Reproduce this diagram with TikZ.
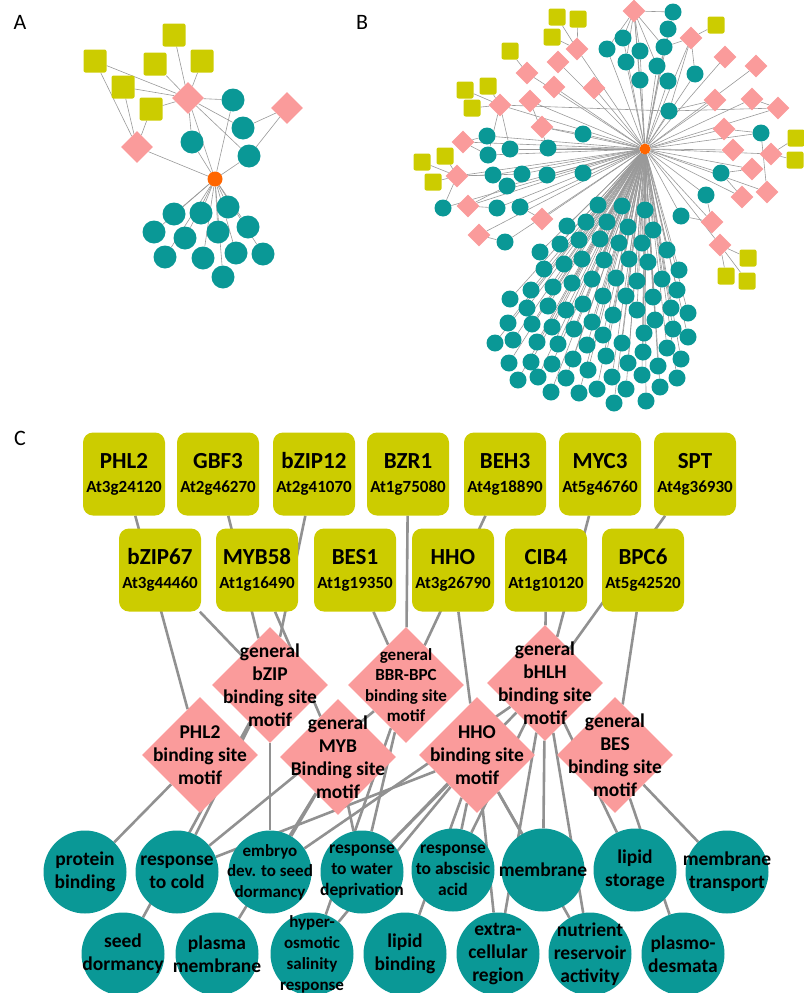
\documentclass[tikz,border=0pt]{standalone}
\usepackage{fontspec}
\setmainfont{Carlito}
\usetikzlibrary{shapes.geometric,backgrounds}

\definecolor{tfyellow}{RGB}{204,204,0}
\definecolor{motifpink}{RGB}{250,155,155}
\definecolor{termteal}{RGB}{10,152,150}
\definecolor{huborange}{RGB}{255,102,0}
\definecolor{linkgray}{RGB}{145,145,145}

\begin{document}
\begin{tikzpicture}[x=1pt, y=-1pt,
		panel/.style={font=\fontsize{22}{26}\selectfont, inner sep=0pt},
		hubnode/.style={circle, fill=huborange, inner sep=0pt},
		smallsq/.style={rectangle, rounded corners=2pt, fill=tfyellow, inner sep=0pt},
		smalldia/.style={diamond, fill=motifpink, inner sep=0pt},
		smallcirc/.style={circle, fill=termteal, inner sep=0pt},
		thinlink/.style={draw=gray!80, line width=0.6pt},
		tf/.style={rectangle, rounded corners=10pt, fill=tfyellow, minimum width=82pt, minimum height=83pt, inner sep=0pt, align=center, font=\bfseries\fontsize{23}{26}\selectfont},
		motif/.style={diamond, fill=motifpink, minimum width=116pt, minimum height=116pt, inner sep=0pt},
		term/.style={circle, fill=termteal, minimum size=83pt, inner sep=0pt},
		termtext/.style={align=center, inner sep=0pt, font=\bfseries\fontsize{19.5}{23}\selectfont},
		smalltext/.style={align=center, inner sep=0pt, font=\bfseries\fontsize{17.5}{21}\selectfont},
		link/.style={draw=linkgray, line width=2.6pt}]
	\useasboundingbox (0,0) rectangle (803,993);
	% panel letters
	\node [panel] (labA) at (20,22) {A};
	\node [panel] (labB) at (362,22) {B};
	\node [panel] (labC) at (20,438) {C};

	% ---------------- A: small network ----------------
	\node [hubnode, minimum size=15pt] (ahub) at (215,179) {};
	\foreach \x/\y [count=\i] in {174/35, 95/61, 155/64, 202/61, 123/87, 151/109}
		\node [smallsq, minimum size=23pt] (as\i) at (\x,\y) {};
	\foreach \x/\y [count=\i] in {188/98, 287/108, 137/147}
		\node [smalldia, minimum size=32pt] (ad\i) at (\x,\y) {};
	\foreach \x/\y [count=\i] in {233/100, 243/128, 192/142, 249/156}
		\node [smallcirc, minimum size=23pt] (ac\i) at (\x,\y) {};
	\foreach \x/\y [count=\i] in {174/214, 201/213, 228/207, 154/232, 185/238, 218/232, 248/227, 165/257, 203/258, 236/253, 263/254, 223/277}
		\node [smallcirc, minimum size=23pt] (al\i) at (\x,\y) {};
	\begin{pgfonlayer}{background}
		\foreach \i in {1,...,6} \draw [thinlink] (as\i) -- (ad1);
		\foreach \i in {2,5,6} \draw [thinlink] (as\i) -- (ad3);
		\foreach \j in {ac1,ac2,ac3,ac4,ahub} \draw [thinlink] (ad1) -- (\j);
		\foreach \j in {ac2,ac4} \draw [thinlink] (ad2) -- (\j);
		\foreach \j in {ad3,ac1,ac3,ac4} \draw [thinlink] (ahub) -- (\j);
		\foreach \i in {1,...,12} \draw [thinlink] (ahub) -- (al\i);
	\end{pgfonlayer}

	% ---------------- B: full network ----------------
	\node [hubnode, minimum size=11pt] (bhub) at (645,149) {};
	% binding site motifs
	\foreach \x/\y [count=\i] in {634/11, 691/38, 577/49, 558/62, 527/73, 725/57, 756/66, 554/87, 594/88, 500/105,
			530/101, 715/100, 752/99, 778/108, 542/127, 724/129, 463/142, 733/150, 771/154, 457/176,
			752/169, 468/206, 742/197, 767/192, 542/219, 712/222, 479/235, 720/245}
		\node [smalldia, minimum size=23pt] (bd\i) at (\x,\y) {};
	% transcription factors
	\foreach \x/\y [count=\i] in {557/17, 578/19, 552/37, 510/51, 716/25, 465/90, 488/86, 472/108,
			445/156, 422/162, 433/182, 796/138, 795/160, 748/258, 726/276, 747/281}
		\node [smallsq, minimum size=17pt] (bs\i) at (\x,\y) {};
	% GO terms around the hub
	\foreach \x/\y [count=\i] in {673/12, 668/29, 623/38, 607/49, 640/51, 664/47, 626/62, 657/66, 640/80, 668/81,
			695/74, 669/111, 583/134, 487/136, 510/149, 548/148, 488/155, 761/133, 493/175, 522/174,
			547/175, 583/173, 507/186, 721/173, 443/208, 497/208, 520/207, 706/195, 681/216, 505/242}
		\node [smallcirc, minimum size=17pt] (bu\i) at (\x,\y) {};
	% GO terms of the lower fan
	\foreach \x/\y [count=\i] in {598/205, 622/206, 645/210, 567/226, 586/222, 607/222, 628/227, 653/230,
			540/252, 560/244, 579/240, 600/239, 619/243, 642/243, 667/250, 544/269, 564/264, 582/259,
			604/260, 629/259, 648/262, 679/270, 531/290, 553/287, 572/283, 592/279, 616/278, 637/281,
			662/279, 677/290, 510/299, 527/308, 548/306, 566/310, 583/304, 603/296, 626/296, 653/297,
			671/308, 688/313, 508/323, 532/324, 552/327, 574/329, 592/322, 613/315, 637/310, 655/320,
			673/329, 688/337, 495/343, 513/340, 537/342, 558/344, 587/345, 603/335, 622/343, 644/333,
			667/348, 509/363, 531/362, 552/364, 573/359, 588/370, 606/356, 628/363, 643/352, 658/366,
			681/359, 518/380, 538/377, 566/378, 612/377, 642/375, 677/378, 551/392, 579/393, 597/389,
			626/389, 660/387, 614/403, 646/401}
		\node [smallcirc, minimum size=17pt] (bl\i) at (\x,\y) {};
	\begin{pgfonlayer}{background}
		\foreach \i in {1,...,28} \draw [thinlink] (bhub) -- (bd\i);
		\foreach \i in {1,...,30} \draw [thinlink] (bhub) -- (bu\i);
		\foreach \i in {1,...,82} \draw [thinlink] (bhub) -- (bl\i);
		\foreach \a/\b in {bs1/bd3, bs2/bd3, bs3/bd3, bs4/bd5, bs5/bd2, bs6/bd10, bs7/bd10, bs8/bd10,
				bs9/bd20, bs10/bd20, bs11/bd20, bs12/bd19, bs13/bd19, bs14/bd28, bs15/bd28, bs16/bd28,
				bd1/bu1, bd1/bu3, bd1/bu4, bd1/bu5, bd1/bu6, bd1/bu7, bd1/bu8, bd1/bu9, bd2/bu11, bd2/bu12,
				bd2/bu6, bd17/bu14, bd17/bu17, bd20/bu19, bd20/bu25, bd20/bu20, bd22/bu26, bd22/bu23,
				bd27/bu30, bd25/bu27, bd16/bu18, bd23/bu24, bd26/bu28, bd26/bu29, bd10/bu15, bd10/bu17,
				bd11/bu16, bd15/bu13, bd12/bu12, bd21/bu24, bd24/bu18, bd10/bu12, bd14/bu12, bd13/bd14}
			\draw [thinlink] (\a) -- (\b);
	\end{pgfonlayer}

	% ---------------- C: annotated network ----------------
	% transcription factors, upper row
	\node [tf] (phl2) at (124,474) {PHL2\\[-2pt]{\fontsize{17}{20}\selectfont At3g24120}};
	\node [tf] (gbf3) at (218,474) {GBF3\\[-2pt]{\fontsize{17}{20}\selectfont At2g46270}};
	\node [tf] (bzip12) at (314,474) {bZIP12\\[-2pt]{\fontsize{17}{20}\selectfont At2g41070}};
	\node [tf] (bzr1) at (408,474) {BZR1\\[-2pt]{\fontsize{17}{20}\selectfont At1g75080}};
	\node [tf] (beh3) at (505,474) {BEH3\\[-2pt]{\fontsize{17}{20}\selectfont At4g18890}};
	\node [tf] (myc3) at (600,474) {MYC3\\[-2pt]{\fontsize{17}{20}\selectfont At5g46760}};
	\node [tf] (spt) at (695,474) {SPT\\[-2pt]{\fontsize{17}{20}\selectfont At4g36930}};
	% transcription factors, lower row
	\node [tf] (bzip67) at (160,570) {bZIP67\\[-2pt]{\fontsize{17}{20}\selectfont At3g44460}};
	\node [tf] (myb58) at (257,570) {MYB58\\[-2pt]{\fontsize{17}{20}\selectfont At1g16490}};
	\node [tf] (bes1) at (355,570) {BES1\\[-2pt]{\fontsize{17}{20}\selectfont At1g19350}};
	\node [tf] (hho) at (453,570) {HHO\\[-2pt]{\fontsize{17}{20}\selectfont At3g26790}};
	\node [tf] (cib4) at (546,570) {CIB4\\[-2pt]{\fontsize{17}{20}\selectfont At1g10120}};
	\node [tf] (bpc6) at (643,570) {BPC6\\[-2pt]{\fontsize{17}{20}\selectfont At5g42520}};

	% binding site motifs
	\node [motif] (bzipm) at (270,685) {};
	\node [termtext] (bzipm-t) at (bzipm) {general\\bZIP\\binding site\\motif};
	\node [motif] (bbrm) at (406,685) {};
	\node [smalltext, font=\bfseries\fontsize{17}{20.5}\selectfont] (bbrm-t) at (bbrm) {general\\BBR-BPC\\binding site\\motif};
	\node [motif] (bhlhm) at (545,683) {};
	\node [termtext] (bhlhm-t) at (bhlhm) {general\\bHLH\\binding site\\motif};
	\node [motif] (phl2m) at (200,755) {};
	\node [termtext] (phl2m-t) at (phl2m) {PHL2\\binding site\\motif};
	\node [motif] (mybm) at (338,757) {};
	\node [termtext] (mybm-t) at (mybm) {general\\MYB\\Binding site\\motif};
	\node [motif] (hhom) at (477,755) {};
	\node [termtext] (hhom-t) at (hhom) {HHO\\binding site\\motif};
	\node [motif] (besm) at (615,755) {};
	\node [termtext] (besm-t) at (besm) {general\\BES\\binding site\\motif};

	% GO terms, upper row
	\node [term] (protbind) at (85,872) {};
	\node [termtext] (protbind-t) at (protbind) {protein\\binding};
	\node [term] (cold) at (177,872) {};
	\node [termtext] (cold-t) at (cold) {response\\to cold};
	\node [term] (embryo) at (270,872) {};
	\node [smalltext, font=\bfseries\fontsize{17}{20.5}\selectfont] (embryo-t) at (embryo) {embryo\\dev. to seed\\dormancy};
	\node [term] (water) at (362,872) {};
	\node [smalltext] (water-t) at (water) {response\\to water\\deprivation};
	\node [term] (abscisic) at (453,870) {};
	\node [smalltext] (abscisic-t) at (abscisic) {response\\to abscisic\\acid};
	\node [term] (membrane) at (543,870) {};
	\node [termtext] (membrane-t) at (membrane) {membrane};
	\node [term] (lipidstor) at (635,870) {};
	\node [termtext] (lipidstor-t) at (lipidstor) {lipid\\storage};
	\node [term] (membtrans) at (727,872) {};
	\node [termtext] (membtrans-t) at (membtrans) {membrane\\transport};
	% GO terms, lower row
	\node [term] (seeddorm) at (123,954) {};
	\node [termtext] (seeddorm-t) at (seeddorm) {seed\\dormancy};
	\node [term] (plasmamem) at (217,954) {};
	\node [termtext] (plasmamem-t) at (plasmamem) {plasma\\membrane};
	\node [term] (hyperosm) at (312,954) {};
	\node [smalltext, font=\bfseries\fontsize{17}{21}\selectfont] (hyperosm-t) at (hyperosm) {hyper-\\osmotic\\salinity\\response};
	\node [term] (lipidbind) at (405,954) {};
	\node [termtext] (lipidbind-t) at (lipidbind) {lipid\\binding};
	\node [term] (extracell) at (498,954) {};
	\node [termtext] (extracell-t) at (extracell) {extra-\\cellular\\region};
	\node [term] (nutrient) at (590,954) {};
	\node [termtext] (nutrient-t) at (nutrient) {nutrient\\reservoir\\activity};
	\node [term] (plasmodes) at (683,954) {};
	\node [termtext] (plasmodes-t) at (plasmodes) {plasmo-\\desmata};

	\begin{pgfonlayer}{background}
		% factor to motif
		\foreach \a/\b in {phl2/phl2m, gbf3/bzipm, bzip12/bzipm, bzr1/bbrm, beh3/bbrm, myc3/bhlhm, spt/bhlhm,
				bzip67/bzipm, myb58/mybm, bes1/bbrm, hho/hhom, cib4/bhlhm, bpc6/besm}
			\draw [link] (\a) -- (\b);
		% motif to GO term
		\foreach \a/\b in {phl2m/protbind, bzipm/cold, bzipm/seeddorm, bzipm/embryo,
				mybm/embryo, mybm/plasmamem, mybm/water, bbrm/cold, bbrm/water, bbrm/hyperosm,
				hhom/cold, hhom/water, hhom/hyperosm, hhom/abscisic, hhom/lipidbind, hhom/membrane,
				hhom/extracell, hhom/nutrient, bhlhm/embryo, bhlhm/water, bhlhm/abscisic, bhlhm/membrane,
				bhlhm/extracell, bhlhm/nutrient, bhlhm/lipidstor, besm/plasmodes, besm/membtrans}
			\draw [link] (\a) -- (\b);
	\end{pgfonlayer}
\end{tikzpicture}
\end{document}
